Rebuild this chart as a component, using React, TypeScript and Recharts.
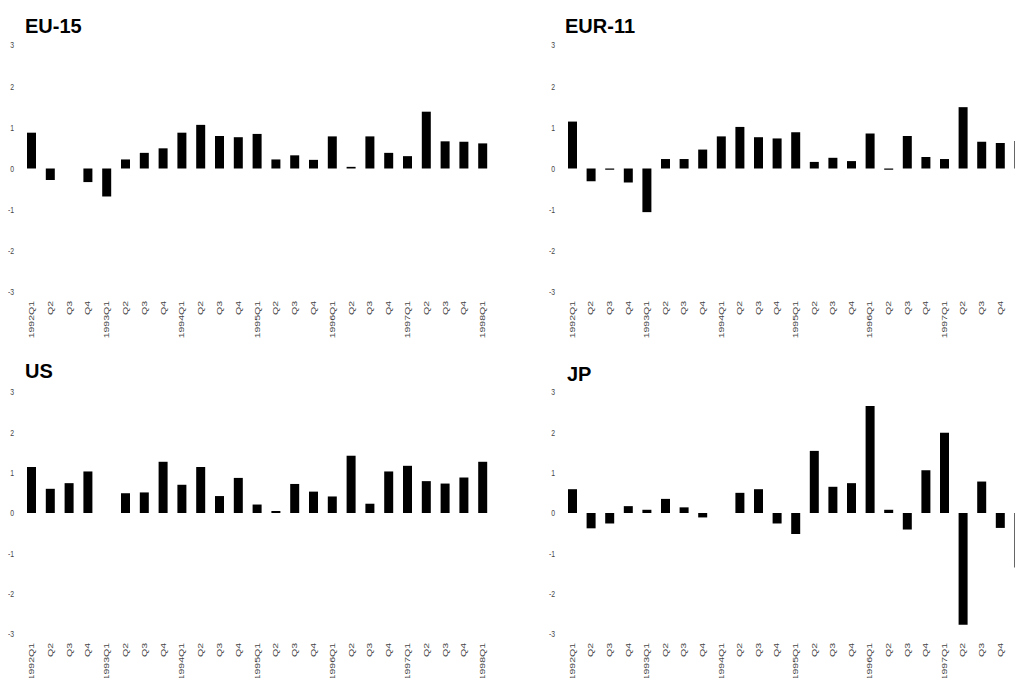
import React from "react";
import { BarChart, Bar, XAxis, YAxis } from "recharts";

const quarters = [
  "1992Q1", "Q2", "Q3", "Q4",
  "1993Q1", "Q2", "Q3", "Q4",
  "1994Q1", "Q2", "Q3", "Q4",
  "1995Q1", "Q2", "Q3", "Q4",
  "1996Q1", "Q2", "Q3", "Q4",
  "1997Q1", "Q2", "Q3", "Q4",
  "1998Q1",
];

const eu15 = [0.87, -0.28, 0, -0.33, -0.68, 0.22, 0.38, 0.49, 0.87, 1.06, 0.79, 0.76, 0.84, 0.22, 0.32, 0.21, 0.78, 0.04, 0.78, 0.38, 0.3, 1.38, 0.66, 0.65, 0.61];
const eur11 = [1.14, -0.31, -0.03, -0.34, -1.06, 0.23, 0.23, 0.46, 0.78, 1.01, 0.76, 0.73, 0.88, 0.16, 0.26, 0.18, 0.85, -0.03, 0.79, 0.28, 0.23, 1.49, 0.65, 0.62, 0.67];
const us = [1.14, 0.6, 0.74, 1.03, 0, 0.49, 0.51, 1.27, 0.7, 1.14, 0.42, 0.87, 0.21, 0.05, 0.72, 0.53, 0.41, 1.42, 0.23, 1.03, 1.17, 0.79, 0.73, 0.88, 1.27];
const jp = [0.59, -0.38, -0.26, 0.17, 0.08, 0.35, 0.14, -0.11, 0, 0.5, 0.59, -0.26, -0.52, 1.54, 0.65, 0.74, 2.65, 0.08, -0.41, 1.06, 1.99, -2.77, 0.78, -0.37, -1.35];

const yTicks = [-3, -2, -1, 0, 1, 2, 3];

const FONT = "'Liberation Sans', Arial, sans-serif";

const XTick = (props: any) => {
  const { x, y, label } = props;
  return (
    <text
      transform={`translate(${x},${y}) rotate(-90) scale(1,0.68)`}
      textAnchor="end"
      dy="0.35em"
      fontSize={10.5}
      fontFamily={FONT}
      fill="#444"
    >
      {label}
    </text>
  );
};

const YTick = (props: any) => {
  const { x, y, payload } = props;
  return (
    <text
      transform={`translate(${x},${y}) scale(0.72,1)`}
      textAnchor="end"
      dy="0.35em"
      fontSize={9.5}
      fontFamily={FONT}
      fill="#444"
    >
      {payload.value}
    </text>
  );
};

type PanelProps = {
  values: number[];
  left: number;
  top: number;
  width: number;
  plotHeight: number;
};

const Panel = ({ values, left, top, width, plotHeight }: PanelProps) => {
  const data = quarters.map((q, i) => ({ q: q + "|" + i, v: values[i] }));
  const xAxisHeight = 50;
  const height = 5 + plotHeight + xAxisHeight;
  return (
    <div style={{ position: "absolute", left, top, width, height }}>
      <BarChart
        width={width}
        height={height}
        data={data}
        margin={{ top: 5, right: 8, left: 0, bottom: 0 }}
      >
        <XAxis
          dataKey="q"
          interval={0}
          axisLine={false}
          tickLine={false}
          tickSize={0}
          tickMargin={9}
          height={xAxisHeight}
          tick={(p: any) => (
            <XTick key={p.index} x={p.x} y={p.y} label={String(p.payload.value).split("|")[0]} />
          )}
        />
        <YAxis
          domain={[-3, 3]}
          ticks={yTicks}
          interval={0}
          width={22}
          axisLine={false}
          tickLine={false}
          tickSize={0}
          tickMargin={8}
          tick={<YTick />}
        />
        <Bar dataKey="v" fill="#000" barSize={9} isAnimationActive={false} />
      </BarChart>
    </div>
  );
};

const titles = [
  { text: "EU-15", x: 25, y: 33 },
  { text: "EUR-11", x: 565, y: 33 },
  { text: "US", x: 25, y: 378 },
  { text: "JP", x: 567, y: 381 },
];

export default function App() {
  return (
    <div
      style={{
        position: "absolute",
        left: 0,
        top: 0,
        width: 1015,
        height: 678,
        overflow: "hidden",
        background: "#fff",
      }}
    >
      <Panel values={eu15} left={0} top={40} width={500} plotHeight={247} />
      <Panel values={eur11} left={541} top={40} width={495} plotHeight={247} />
      <Panel values={us} left={0} top={387} width={500} plotHeight={242} />
      <Panel values={jp} left={541} top={387} width={495} plotHeight={242} />
      <svg
        width={1015}
        height={678}
        style={{ position: "absolute", left: 0, top: 0, pointerEvents: "none" }}
      >
        {titles.map((t) => (
          <text key={t.text} x={t.x} y={t.y} fontFamily={FONT} fontWeight="bold" fontSize={20} fill="#000">
            {t.text}
          </text>
        ))}
      </svg>
    </div>
  );
}
